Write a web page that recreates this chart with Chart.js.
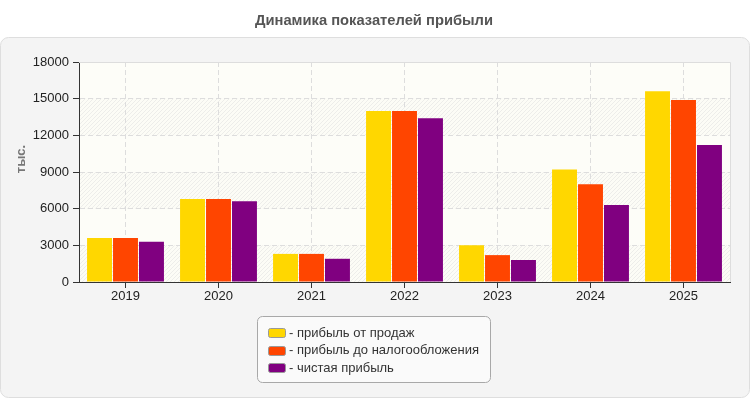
<!DOCTYPE html>
<html lang="ru">
<head>
  <meta charset="UTF-8">
  <title>Динамика показателей прибыли</title>
  <script src="https://cdn.jsdelivr.net/npm/chart.js"></script>
  <style>
    body { margin: 0; background: #fff; }
    #wrap { width: 750px; height: 400px; position: relative; }
  </style>
</head>
<body>
<div id="wrap"><canvas id="profitChart"></canvas></div>
<script>
const chartTitle = "Динамика показателей прибыли";
const yTitle = "тыс.";
const years = ["2019", "2020", "2021", "2022", "2023", "2024", "2025"];
const salesProfit = [3600, 6800, 2300, 14000, 3000, 9200, 15600];
const preTaxProfit = [3600, 6800, 2300, 14000, 2200, 8000, 14900];
const netProfit = [3300, 6600, 1900, 13400, 1800, 6300, 11200];
const seriesNames = ["- прибыль от продаж", "- прибыль до налогообложения", "- чистая прибыль"];
const seriesColors = ["#ffd700", "#ff4500", "#800080"];
const yMax = 18000;
const yStep = 3000;

const FONT = "'Liberation Sans', Arial, sans-serif";

// light diagonal hatching for the plot background
function hatchPattern(ctx) {
  const c = document.createElement("canvas");
  c.width = 4; c.height = 4;
  const p = c.getContext("2d");
  p.fillStyle = "#fcfcf6";
  p.fillRect(0, 0, 4, 4);
  p.strokeStyle = "#ededea";
  p.lineWidth = 1;
  p.beginPath();
  p.moveTo(0, 4); p.lineTo(4, 0);
  p.moveTo(-1, 1); p.lineTo(1, -1);
  p.moveTo(3, 5); p.lineTo(5, 3);
  p.stroke();
  return ctx.createPattern(c, "repeat");
}

const backdrop = {
  id: "backdrop",
  beforeDraw(chart) {
    const { ctx, chartArea: a, scales: { y } } = chart;
    ctx.save();
    // panel
    ctx.fillStyle = "#f4f4f4";
    ctx.strokeStyle = "#dedede";
    ctx.lineWidth = 1;
    ctx.beginPath();
    ctx.roundRect(0.5, 37.5, 749, 360, 8);
    ctx.fill();
    ctx.stroke();
    // title
    ctx.fillStyle = "#555";
    ctx.font = "bold 15px " + FONT;
    ctx.textAlign = "center";
    ctx.textBaseline = "middle";
    ctx.fillText(chartTitle, 374, 21, 238);
    // plot area
    ctx.fillStyle = "#fdfdf8";
    ctx.fillRect(a.left, a.top, a.width, a.height);
    ctx.fillStyle = hatchPattern(ctx);
    for (let v = 0; v < yMax; v += yStep * 2) {
      const y1 = y.getPixelForValue(v);
      const y2 = y.getPixelForValue(v + yStep);
      ctx.fillRect(a.left, y2, a.width, y1 - y2);
    }
    // y title
    ctx.translate(21, 159);
    ctx.rotate(-Math.PI / 2);
    ctx.fillStyle = "#777";
    ctx.font = "bold 13px " + FONT;
    ctx.fillText(yTitle, 0, 0);
    ctx.restore();
  },
  afterDatasetsDraw(chart) {
    const { ctx, chartArea: a } = chart;
    ctx.save();
    ctx.strokeStyle = "#dddddd";
    ctx.lineWidth = 1;
    ctx.beginPath();
    ctx.moveTo(a.left, a.top + 0.5); ctx.lineTo(a.right + 0.5, a.top + 0.5);
    ctx.lineTo(a.right + 0.5, a.bottom);
    ctx.stroke();
    ctx.restore();
  }
};

const boxLegend = {
  id: "boxLegend",
  afterDraw(chart) {
    const { ctx } = chart;
    const sets = chart.data.datasets;
    ctx.save();
    ctx.fillStyle = "#fafafa";
    ctx.strokeStyle = "#a8a8a8";
    ctx.lineWidth = 1;
    ctx.beginPath();
    ctx.roundRect(257.5, 316.5, 233, 66, 5);
    ctx.fill();
    ctx.stroke();
    ctx.font = "13px " + FONT;
    ctx.textBaseline = "middle";
    ctx.textAlign = "left";
    sets.forEach((ds, i) => {
      const cy = 333 + i * 17.5;
      ctx.fillStyle = ds.backgroundColor;
      ctx.strokeStyle = "#999";
      ctx.beginPath();
      ctx.roundRect(268.5, Math.round(cy - 5) + 0.5, 17, 9, 2);
      ctx.fill();
      ctx.stroke();
      ctx.fillStyle = "#333";
      ctx.fillText(ds.label, 289, cy);
    });
    ctx.restore();
  }
};

const ctx = document.getElementById("profitChart").getContext("2d");
new Chart(ctx, {
  type: "bar",
  data: {
    labels: years,
    datasets: [
      { label: seriesNames[0], data: salesProfit, backgroundColor: seriesColors[0] },
      { label: seriesNames[1], data: preTaxProfit, backgroundColor: seriesColors[1] },
      { label: seriesNames[2], data: netProfit, backgroundColor: seriesColors[2] }
    ]
  },
  options: {
    responsive: true,
    maintainAspectRatio: false,
    animation: false,
    layout: { padding: { top: 62, right: 20, bottom: 88, left: 0 } },
    datasets: { bar: { categoryPercentage: 0.838, barPercentage: 0.96 } },
    plugins: { legend: { display: false }, tooltip: { enabled: false } },
    scales: {
      x: {
        afterFit(scale) { scale.height = 30; },
        grid: { color: "#dddddd", offset: false, drawTicks: true, tickLength: 6, tickColor: "#333" },
        border: { color: "#333", width: 1, dash: [5, 3] },
        ticks: { color: "#222", font: { family: FONT, size: 13 }, padding: 1 }
      },
      y: {
        min: 0,
        max: yMax,
        afterFit(scale) { scale.width = 79; },
        grid: { color: "#dddddd", drawTicks: true, tickLength: 6, tickColor: "#333" },
        border: { color: "#333", width: 1, dash: [5, 3] },
        ticks: {
          stepSize: yStep, color: "#222", font: { family: FONT, size: 13 }, padding: 4,
          callback: v => String(v)
        }
      }
    }
  },
  plugins: [backdrop, boxLegend]
});
</script>
</body>
</html>
